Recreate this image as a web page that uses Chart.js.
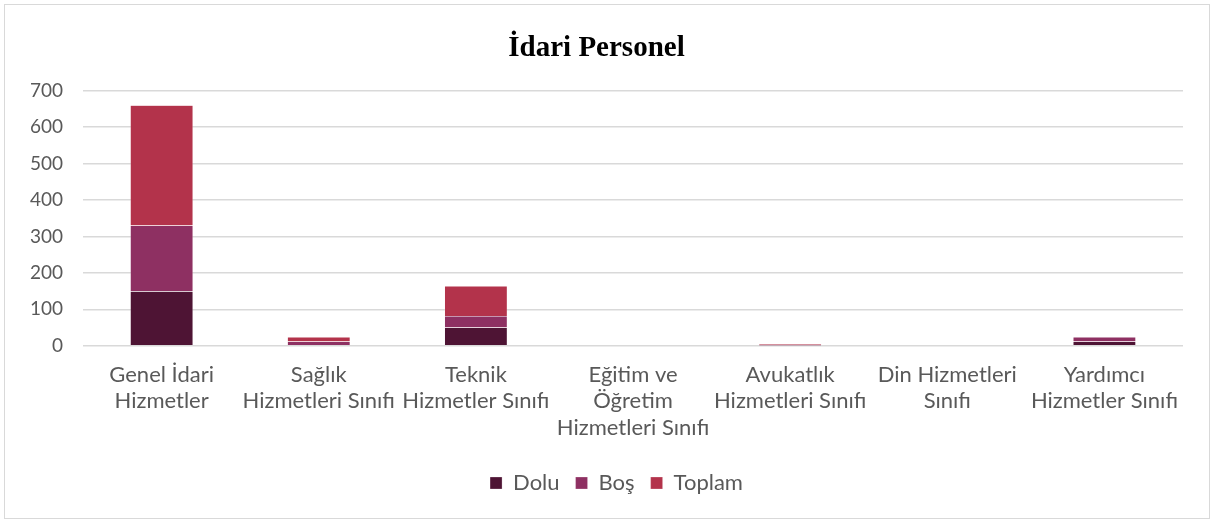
<!DOCTYPE html>
<html>
<head>
<meta charset="utf-8">
<script src="https://cdn.jsdelivr.net/npm/chart.js@4"></script>
<style>
  html, body { margin: 0; padding: 0; background: #fff; }
  #box { position: absolute; left: 4px; top: 4px; width: 1204px; height: 513px; border: 1px solid #d9d9d9; }
  #chartWrapper { width: 1204px; height: 513px; }
</style>
</head>
<body>
<div id="box"><div id="chartWrapper"><canvas id="personelChart"></canvas></div></div>
<script>
const CATEGORIES = [
    ["Genel İdari", "Hizmetler"],
    ["Sağlık", "Hizmetleri Sınıfı"],
    ["Teknik", "Hizmetler Sınıfı"],
    ["Eğitim ve", "Öğretim", "Hizmetleri Sınıfı"],
    ["Avukatlık", "Hizmetleri Sınıfı"],
    ["Din Hizmetleri", "Sınıfı"],
    ["Yardımcı", "Hizmetler Sınıfı"]
];
const DOLU   = [150, 0, 50, 0, 1, 0, 12];
const BOS    = [180, 12, 32, 0, 2, 0, 12];
const TOPLAM = [330, 12, 82, 0, 3, 0, 0];
const Y_TICKS = [0, 100, 200, 300, 400, 500, 600, 700];

const FONT = "'Lato', 'Open Sans', sans-serif";
const GREY = "#595959";

// legend sits a bit right of centre in the original
const legendNudge = {
    id: 'legendNudge',
    afterLayout(chart) {
        if (chart.legend) { chart.legend.left += 20; chart.legend.right += 20; }
    }
};

function makeChart() {
    const ctx = document.getElementById('personelChart').getContext('2d');
    new Chart(ctx, {
        type: 'bar',
        data: {
            labels: CATEGORIES,
            datasets: [
                { label: "Dolu",   data: DOLU,   backgroundColor: "#4e1434" },
                { label: "Boş",    data: BOS,    backgroundColor: "#8e3062" },
                { label: "Toplam", data: TOPLAM, backgroundColor: "#b3334b" }
            ].map(d => ({ ...d, borderColor: "rgba(255,255,255,0.5)", borderWidth: 0.5, barPercentage: 0.4, categoryPercentage: 1 }))
        },
        plugins: [legendNudge],
        options: {
            responsive: true,
            maintainAspectRatio: false,
            animation: false,
            layout: { padding: { left: 5, right: 26, top: 4, bottom: 14 } },
            plugins: {
                title: {
                    display: true,
                    text: "İdari Personel",
                    color: "#000",
                    font: { family: "'Liberation Serif', 'Times New Roman', serif", size: 29, weight: 'bold' },
                    padding: { top: 22, bottom: 25 }
                },
                legend: {
                    position: 'bottom',
                    labels: {
                        color: GREY,
                        font: { family: FONT, size: 22 },
                        boxWidth: 12, boxHeight: 12, padding: 16
                    }
                },
                tooltip: { enabled: false }
            },
            scales: {
                x: {
                    stacked: true,
                    grid: { display: false },
                    border: { display: false },
                    afterFit: axis => { axis.height += 7; },
                    ticks: {
                        color: GREY,
                        font: { family: FONT, size: 22, lineHeight: 1.2 },
                        maxRotation: 0, autoSkip: false, padding: 8
                    }
                },
                y: {
                    stacked: true,
                    min: 0, max: 700,
                    afterBuildTicks: axis => { axis.ticks = Y_TICKS.map(v => ({ value: v })); },
                    grid: { color: "#d9d9d9", lineWidth: 1.5, drawTicks: false },
                    border: { display: false },
                    ticks: {
                        color: GREY,
                        font: { family: FONT, size: 19 },
                        padding: 20
                    }
                }
            }
        }
    });
}

document.addEventListener("DOMContentLoaded", makeChart);
</script>
</body>
</html>
